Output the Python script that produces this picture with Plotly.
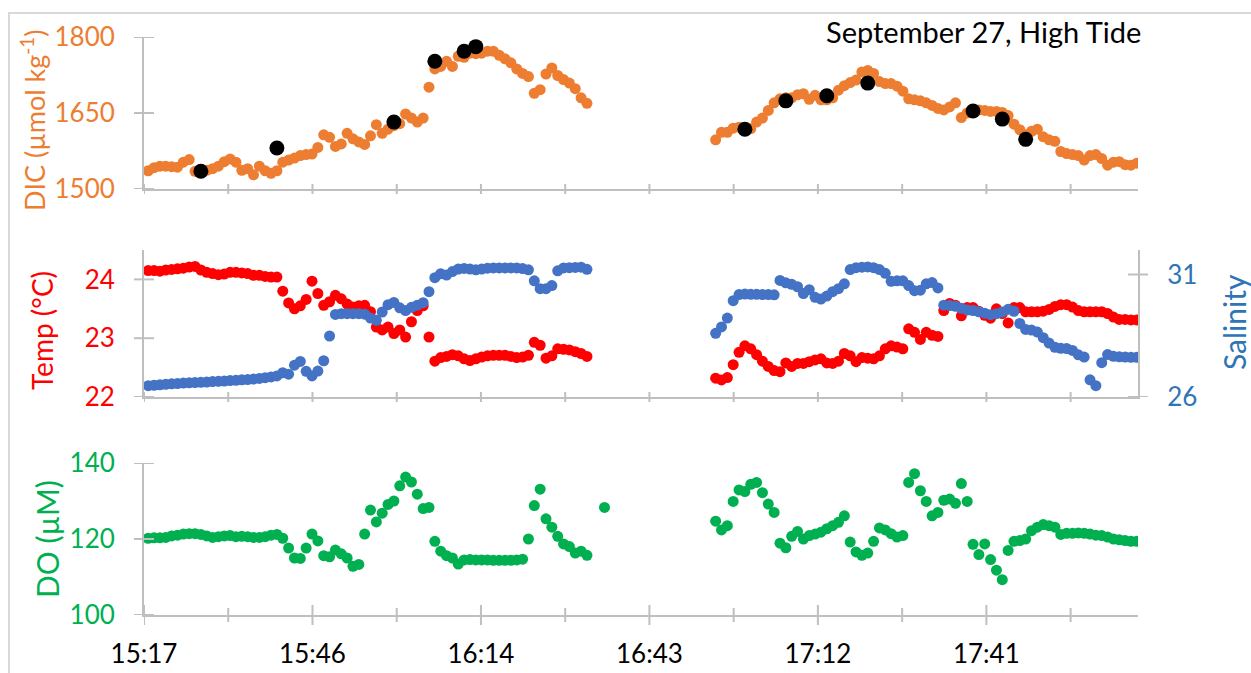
import plotly.graph_objects as go

# ------------------------------------------------------------------ data
# Continuous sonde records, one reading per minute, two deployments
SEG1_START = "15:18"
SEG2_START = "16:55"

dic_seg1 = [1536, 1542, 1545, 1545, 1544, 1543, 1553, 1558, 1535, 1534,
            1537, 1540, 1545, 1554, 1559, 1553, 1537, 1540, 1528, 1545,
            1536, 1531, 1536, 1553, 1557, 1561, 1566, 1568, 1569, 1582,
            1607, 1602, 1584, 1589, 1610, 1599, 1593, 1588, 1605, 1627,
            1610, 1618, 1625, 1629, 1648, 1640, 1632, 1640, 1701, 1737,
            1742, 1752, 1742, 1762, 1760, 1768, 1767, 1768, 1772, 1772,
            1764, 1757, 1749, 1737, 1728, 1722, 1689, 1696, 1727, 1739,
            1724, 1716, 1709, 1698, 1680, 1669]
dic_seg2 = [1597, 1612, 1612, 1620, 1622, 1621, 1619, 1632, 1640, 1655,
            1670, 1678, 1680, 1680, 1686, 1688, 1677, 1685, 1676, 1676,
            1680, 1695, 1704, 1710, 1715, 1731, 1734, 1728, 1712, 1708,
            1708, 1703, 1693, 1678, 1676, 1674, 1670, 1665, 1659, 1656,
            1662, 1670, 1641, 1650, 1656, 1656, 1655, 1653, 1653, 1651,
            1645, 1628, 1617, 1607, 1614, 1618, 1603, 1597, 1594, 1574,
            1570, 1568, 1566, 1557, 1566, 1568, 1560, 1547, 1553, 1554,
            1548, 1547, 1551]

# discrete bottle samples
dic_sample_time = ["15:27", "15:40", "16:00", "16:07", "16:12", "16:14",
                   "17:00", "17:07", "17:14", "17:21", "17:39", "17:44", "17:48"]
dic_sample = [1535, 1581, 1632, 1752, 1772, 1781,
              1618, 1674, 1684, 1709, 1654, 1638, 1598]

temp_seg1 = [24.15, 24.15, 24.14, 24.16, 24.17, 24.18, 24.19, 24.21, 24.22, 24.16,
             24.12, 24.10, 24.08, 24.09, 24.12, 24.12, 24.11, 24.10, 24.07, 24.07,
             24.05, 24.04, 24.04, 23.80, 23.60, 23.50, 23.55, 23.66, 23.97, 23.76,
             23.56, 23.62, 23.73, 23.67, 23.58, 23.53, 23.55, 23.56, 23.45, 23.19,
             23.14, 23.19, 23.08, 23.14, 23.02, 23.28, 23.47, 23.55, 23.02, 22.61,
             22.67, 22.69, 22.72, 22.70, 22.65, 22.62, 22.65, 22.68, 22.70, 22.71,
             22.71, 22.71, 22.69, 22.67, 22.68, 22.71, 22.93, 22.88, 22.66, 22.70,
             22.82, 22.81, 22.80, 22.77, 22.74, 22.69]
temp_seg2 = [22.32, 22.29, 22.33, 22.55, 22.76, 22.87, 22.82, 22.72, 22.61, 22.52,
             22.45, 22.43, 22.58, 22.52, 22.57, 22.57, 22.60, 22.63, 22.65, 22.58,
             22.57, 22.61, 22.74, 22.70, 22.60, 22.67, 22.66, 22.65, 22.70, 22.82,
             22.87, 22.85, 22.82, 23.16, 23.10, 22.98, 23.10, 23.05, 23.03, 23.47,
             23.59, 23.56, 23.38, 23.52, 23.52, 23.46, 23.39, 23.34, 23.50, 23.42,
             23.26, 23.52, 23.52, 23.45, 23.45, 23.45, 23.46, 23.49, 23.54, 23.57,
             23.57, 23.53, 23.47, 23.45, 23.45, 23.45, 23.45, 23.42, 23.36, 23.32,
             23.32, 23.31, 23.31]

sal_seg1 = [26.46, 26.48, 26.50, 26.52, 26.54, 26.55, 26.57, 26.58, 26.59, 26.60,
            26.61, 26.63, 26.64, 26.65, 26.67, 26.68, 26.70, 26.71, 26.73, 26.76,
            26.79, 26.82, 26.86, 26.99, 26.93, 27.30, 27.45, 27.05, 26.86, 27.06,
            27.48, 28.49, 29.37, 29.40, 29.40, 29.40, 29.40, 29.38, 29.22, 29.13,
            29.47, 29.77, 29.86, 29.64, 29.53, 29.66, 29.75, 29.85, 30.30, 30.87,
            31.03, 30.98, 31.12, 31.22, 31.25, 31.22, 31.19, 31.22, 31.26, 31.27,
            31.27, 31.27, 31.27, 31.27, 31.24, 31.19, 30.74, 30.42, 30.42, 30.55,
            31.15, 31.27, 31.28, 31.29, 31.30, 31.21]
sal_seg2 = [28.60, 28.86, 29.22, 29.93, 30.18, 30.20, 30.19, 30.19, 30.18, 30.18,
            30.17, 30.76, 30.66, 30.60, 30.50, 30.22, 30.38, 30.07, 30.00, 30.12,
            30.30, 30.42, 30.62, 31.20, 31.28, 31.30, 31.31, 31.28, 31.20, 31.05,
            30.72, 30.74, 30.74, 30.55, 30.34, 30.36, 30.62, 30.67, 30.45, 29.75,
            29.73, 29.70, 29.62, 29.55, 29.53, 29.48, 29.42, 29.36, 29.40, 29.47,
            29.58, 29.50, 29.00, 28.76, 28.73, 28.65, 28.42, 28.20, 28.03, 27.99,
            27.98, 27.90, 27.72, 27.63, 26.70, 26.46, 27.40, 27.73, 27.66, 27.64,
            27.63, 27.62, 27.62]

do_seg1 = [120.2, 120.3, 120.3, 120.4, 120.8, 121.0, 121.3, 121.4, 121.4, 121.2,
           120.8, 120.4, 120.6, 120.8, 120.9, 120.6, 120.7, 120.6, 120.4, 120.4,
           120.6, 121.0, 121.2, 120.2, 117.6, 115.0, 114.9, 117.6, 121.3, 119.5,
           115.6, 115.3, 117.1, 116.1, 115.0, 112.8, 113.3, 121.3, 127.6, 124.5,
           126.8, 129.1, 130.0, 134.0, 136.3, 135.0, 131.8, 128.0, 128.3, 119.4,
           116.8, 115.6, 115.0, 113.4, 114.5, 114.6, 114.5, 114.5, 114.5, 114.4,
           114.4, 114.4, 114.4, 114.5, 114.7, 120.0, 128.8, 133.1, 125.3, 123.1,
           120.7, 118.7, 118.0, 116.3, 116.8, 115.7]
do_extra_time = ["16:36"]
do_extra = [128.3]
do_seg2 = [124.7, 122.4, 123.5, 129.9, 132.9, 132.5, 134.4, 134.9, 132.2, 129.2,
           127.0, 118.9, 117.7, 120.7, 122.0, 120.0, 120.9, 121.3, 121.8, 122.7,
           123.5, 124.4, 126.1, 119.2, 116.6, 115.7, 116.3, 119.4, 122.9, 122.4,
           121.4, 120.5, 120.9, 134.9, 137.2, 132.7, 129.9, 126.1, 127.0, 130.2,
           130.5, 129.4, 134.6, 129.9, 118.6, 115.9, 118.7, 114.6, 111.8, 109.3,
           117.0, 119.4, 119.6, 120.0, 122.2, 123.1, 123.8, 123.5, 123.1, 121.2,
           121.5, 121.5, 121.6, 121.5, 121.3, 121.0, 120.9, 120.5, 120.0, 119.8,
           119.6, 119.4, 119.4]

# axis (Excel time serials, fraction of a day)
x_range_days = [0.637, 0.755]
x_major_days = [0.637, 0.657, 0.677, 0.697, 0.717, 0.737]
x_minor_days = [0.647, 0.667, 0.687, 0.707, 0.727, 0.747]
x_tick_labels = ["15:17", "15:46", "16:14", "16:43", "17:12", "17:41"]
dic_ticks = [1500, 1650, 1800]
temp_ticks = [22, 23, 24]
sal_ticks = [26, 31]
do_ticks = [100, 120, 140]

# ------------------------------------------------------------------ helpers
def day(hhmm):
    h, m = hhmm.split(":")
    return (int(h) * 60 + int(m)) / 1440.0


def minute_times(start, n):
    s = day(start)
    return [s + i / 1440.0 for i in range(n)]


t1 = minute_times(SEG1_START, len(dic_seg1))
t2 = minute_times(SEG2_START, len(dic_seg2))
t_samples = [day(s) for s in dic_sample_time]
t_do = t1 + [day(s) for s in do_extra_time] + t2

ORANGE = "#ED7D31"
RED = "#FF0000"
BLUE = "#4472C4"
SAL_TXT = "#2E75B6"
GREEN = "#00B050"
AXIS = "#BFBFBF"
FONT = "Lato"

W, H = 1251, 673
ML, MR, MT, MB = 144, 113, 37, 58
PW, PH = W - ML - MR, H - MT - MB


def py(px):  # page pixel row -> paper y
    return (H - MB - px) / PH


def pxx(px):  # page pixel column -> paper x
    return (px - ML) / PW


dom_top = [py(189), py(37)]
dom_mid = [py(397), py(250)]
dom_bot = [py(615), py(463)]

fig = go.Figure()
fig.add_trace(go.Scatter(x=t1 + t2, y=dic_seg1 + dic_seg2, mode="markers",
                         marker=dict(size=11, color=ORANGE), xaxis="x", yaxis="y",
                         name="DIC sensor"))
fig.add_trace(go.Scatter(x=t_samples, y=dic_sample, mode="markers",
                         marker=dict(size=15, color="black"), xaxis="x", yaxis="y",
                         name="DIC bottle"))
fig.add_trace(go.Scatter(x=t1 + t2, y=temp_seg1 + temp_seg2, mode="markers",
                         marker=dict(size=11, color=RED), xaxis="x2", yaxis="y2",
                         name="Temp"))
fig.add_trace(go.Scatter(x=t1 + t2, y=sal_seg1 + sal_seg2, mode="markers",
                         marker=dict(size=11, color=BLUE), xaxis="x2", yaxis="y3",
                         name="Salinity"))
fig.add_trace(go.Scatter(x=t_do, y=do_seg1 + do_extra + do_seg2, mode="markers",
                         marker=dict(size=11, color=GREEN), xaxis="x3", yaxis="y4",
                         name="DO"))

xbase = dict(range=x_range_days, showline=True, linecolor=AXIS, linewidth=2,
             showgrid=False, zeroline=False, ticks="", tickvals=x_major_days,
             ticktext=x_tick_labels, showticklabels=False, domain=[0, 1],
             automargin=False)
ybase = dict(showline=True, linecolor=AXIS, linewidth=2, showgrid=False,
             zeroline=False, ticks="", ticklabelstandoff=22, automargin=False)

fig.update_layout(
    width=W, height=H, autosize=False,
    margin=dict(l=ML, r=MR, t=MT, b=MB, pad=0, autoexpand=False),
    paper_bgcolor="white", plot_bgcolor="white",
    showlegend=False,
    font=dict(family=FONT, size=26, color="black"),
    xaxis=dict(xbase, anchor="y"),
    xaxis2=dict(xbase, anchor="y2"),
    xaxis3=dict(xbase, anchor="y4", showticklabels=True, ticklabelstandoff=15,
                tickfont=dict(family=FONT, size=26, color="black")),
    yaxis=dict(ybase, domain=dom_top, range=[1500, 1800], tickvals=dic_ticks,
               anchor="x", tickfont=dict(family=FONT, size=26, color=ORANGE)),
    yaxis2=dict(ybase, domain=dom_mid, range=[22, 24.5], tickvals=temp_ticks,
                anchor="x2", tickfont=dict(family=FONT, size=26, color=RED)),
    yaxis3=dict(ybase, overlaying="y2", side="right", range=[26, 32],
                tickvals=sal_ticks, anchor="x2",
                tickfont=dict(family=FONT, size=26, color=SAL_TXT)),
    yaxis4=dict(ybase, domain=dom_bot, range=[100, 140], tickvals=do_ticks,
                anchor="x3", tickfont=dict(family=FONT, size=26, color=GREEN)),
)

shapes = []
# outer chart frame
shapes.append(dict(type="rect", xref="paper", yref="paper", x0=pxx(9), x1=1.3,
                   y0=-0.3, y1=py(13), line=dict(color="#D9D9D9", width=2),
                   fillcolor="rgba(0,0,0,0)", layer="below"))
# cross tick marks on x axes
for dom, maj, mnr in [(dom_top, 5, 5), (dom_mid, 5, 5), (dom_bot, 10, 7)]:
    for v, half in [(v, maj) for v in x_major_days] + [(v, mnr) for v in x_minor_days]:
        shapes.append(dict(type="line", xref="x", yref="paper", x0=v, x1=v,
                           ysizemode="pixel", yanchor=dom[0], y0=-half, y1=half,
                           line=dict(color=AXIS, width=2)))
# cross tick marks on y axes
for yref, vals, side in [("y", dic_ticks, 0), ("y2", temp_ticks, 0),
                         ("y3", sal_ticks, 1), ("y4", do_ticks, 0)]:
    for v in vals:
        shapes.append(dict(type="line", xref="paper", yref=yref, y0=v, y1=v,
                           xsizemode="pixel", xanchor=side, x0=-10, x1=10,
                           line=dict(color=AXIS, width=2)))
fig.update_layout(shapes=shapes)

annotations = [
    dict(text="September 27, High Tide", xref="paper", yref="paper",
         x=pxx(1143), y=py(31), xanchor="right", yanchor="middle",
         showarrow=False, font=dict(family=FONT, size=29, color="black")),
    dict(text="DIC (µmol kg<sup>-1</sup>)", xref="paper", yref="paper",
         x=pxx(33), y=py(120), xanchor="center", yanchor="middle", textangle=-90,
         showarrow=False, font=dict(family=FONT, size=27, color=ORANGE)),
    dict(text="Temp (°C)", xref="paper", yref="paper",
         x=pxx(42), y=py(331), xanchor="center", yanchor="middle", textangle=-90,
         showarrow=False, font=dict(family=FONT, size=28, color=RED)),
    dict(text="DO (µM)", xref="paper", yref="paper",
         x=pxx(47), y=py(539), xanchor="center", yanchor="middle", textangle=-90,
         showarrow=False, font=dict(family=FONT, size=30, color=GREEN)),
    dict(text="Salinity", xref="paper", yref="paper",
         x=pxx(1234), y=py(322), xanchor="center", yanchor="middle", textangle=-90,
         showarrow=False, font=dict(family=FONT, size=30, color=SAL_TXT)),
]
fig.update_layout(annotations=annotations)

fig.write_html("out.html", config={"displayModeBar": False},
               post_script="document.body.style.margin='0px';")
